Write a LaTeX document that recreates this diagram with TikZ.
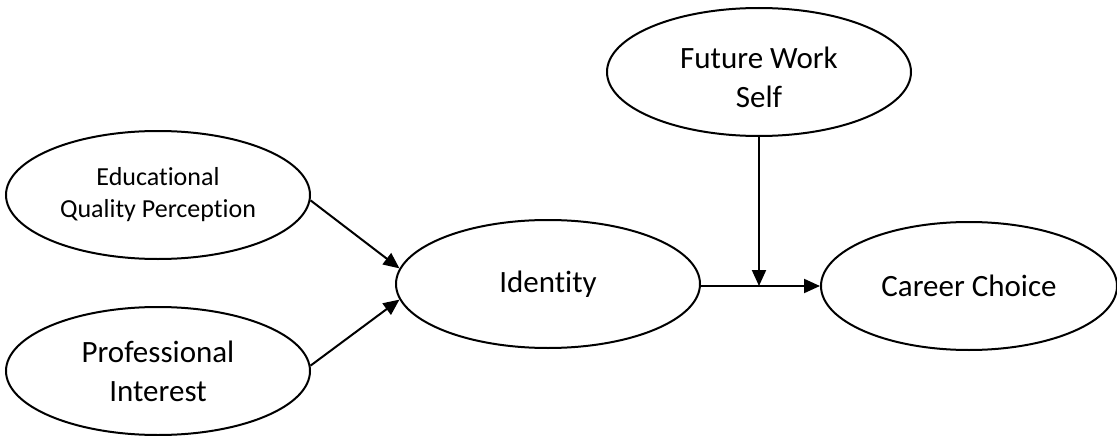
\documentclass[tikz,border=0pt]{standalone}
\usepackage{fontspec}
\setmainfont{Carlito}[Ligatures=NoCommon]
\usetikzlibrary{arrows.meta,shapes.geometric}
\tikzset{
  el/.style={draw, ellipse, line width=2pt, minimum width=304pt, minimum height=128pt, inner sep=0pt, align=center},
  big/.style={font=\fontsize{31}{39}\selectfont},
  small/.style={font=\fontsize{26}{32}\selectfont},
  txt/.style={align=center, inner sep=0pt},
  arr/.style={line width=2pt, -{Triangle[length=16pt,width=14pt]}}
}
\begin{document}
\begin{tikzpicture}[x=1pt,y=-1pt]
\useasboundingbox (0,0) rectangle (1117,436);
\node[el, small] (edu) at (158,195) {Educational\\Quality Perception};
\node[el, big] (pro) at (158,371) {Professional\\Interest};
\node[el, big] (id) at (548,284) {Identity};
\node[el] (fws) at (759,72) {};
\node[txt, big] (fwst) at (759,77) {Future Work\\Self};
\node[el, big, minimum width=296pt] (cc) at (969,286) {Career Choice};
\coordinate (j) at (fws.south |- cc.west);
\draw[arr] (edu.358) -- (id.174);
\draw[arr] (pro.2) -- (id.186);
\draw[arr] (id.east |- cc.west) -- (cc.west);
\draw[arr] (fws.south) -- (j);
\end{tikzpicture}
\end{document}
